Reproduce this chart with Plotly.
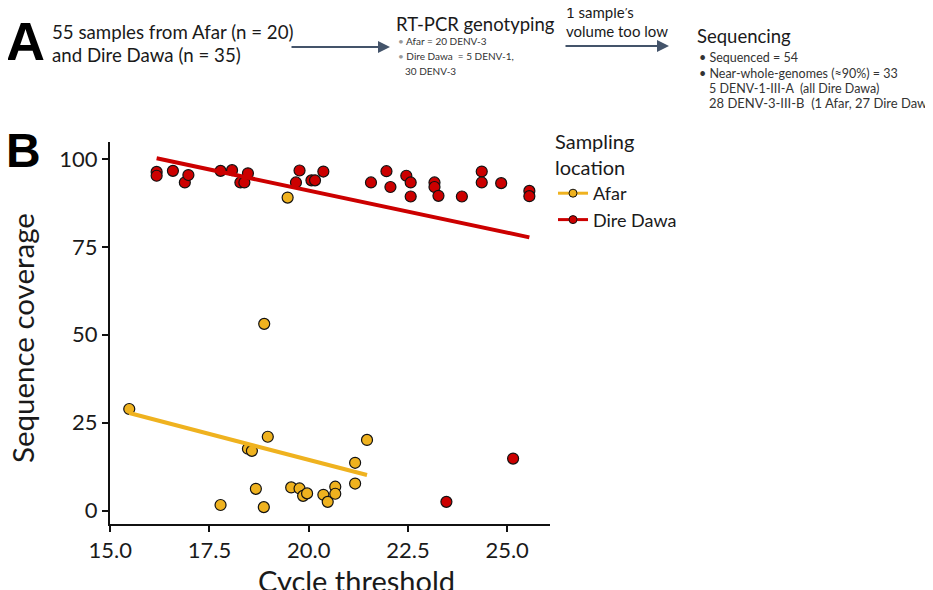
import numpy as np
import plotly.graph_objects as go

# ---------------- data ----------------
afar_ct = [15.48, 17.78, 18.47, 18.57, 18.67, 18.87, 18.88, 18.97, 19.47, 19.56,
           19.77, 19.86, 19.96, 20.37, 20.48, 20.67, 20.67, 21.17, 21.17, 21.47]
afar_cov = [28.9, 1.6, 17.6, 17.0, 6.2, 1.0, 53.1, 21.0, 89.0, 6.6,
            6.3, 4.2, 4.9, 4.5, 2.5, 6.8, 4.8, 13.6, 7.7, 20.1]

dire_ct = [16.17, 16.17, 16.58, 16.88, 16.97, 17.78, 18.07, 18.28, 18.38, 18.47,
           19.68, 19.77, 20.07, 20.16, 20.37, 21.57, 21.96, 22.06, 22.46, 22.57,
           22.57, 23.17, 23.17, 23.27, 23.47, 23.86, 24.36, 24.36, 24.85, 25.15,
           25.56, 25.56]
dire_cov = [96.3, 95.2, 96.6, 93.3, 95.4, 96.6, 96.8, 93.3, 93.3, 95.9,
            93.3, 96.7, 93.9, 93.9, 96.4, 93.3, 96.5, 92.0, 95.2, 93.3,
            89.3, 93.3, 92.0, 89.5, 2.5, 89.3, 96.4, 93.3, 93.1, 14.8,
            90.9, 89.4]

x_ticks = [15.0, 17.5, 20.0, 22.5, 25.0]
x_tick_labels = ["15.0", "17.5", "20.0", "22.5", "25.0"]
y_ticks = [0, 25, 50, 75, 100]

groups = ["Afar", "Dire Dawa"]
colors = {"Afar": "#EFB21F", "Dire Dawa": "#CC0000"}

FONT = "Lato"
OFF = 8  # default page body margin
PAGE_W, PAGE_H = 933, 590
W, H = PAGE_W - OFF, PAGE_H - OFF
PL, PR, PT, PB = 110, 550, 142, 524  # plot area in page pixels
L, R, T, B = PL - OFF, PAGE_W - PR, PT - OFF, PAGE_H - PB


def px2x(px):
    return (px - PL) / (PR - PL)


def py2y(py):
    return (PB - py) / (PB - PT)


fig = go.Figure()

data = {"Afar": (afar_ct, afar_cov), "Dire Dawa": (dire_ct, dire_cov)}

# points
for g in groups:
    xs, ys = data[g]
    fig.add_trace(go.Scatter(
        x=xs, y=ys, mode="markers", showlegend=False,
        marker=dict(size=11, color=colors[g], line=dict(color="#111111", width=1.2)),
    ))

# linear fits
for g in groups:
    xs, ys = data[g]
    slope, icpt = np.polyfit(xs, ys, 1)
    fx = np.array([min(xs), max(xs)])
    fig.add_trace(go.Scatter(
        x=fx, y=slope * fx + icpt, mode="lines", showlegend=False,
        line=dict(color=colors[g], width=4),
    ))

# legend entries
for g in groups:
    fig.add_trace(go.Scatter(
        x=[None], y=[None], mode="lines+markers", name=g,
        line=dict(color=colors[g], width=3),
        marker=dict(size=8, color=colors[g], line=dict(color="#111111", width=1)),
    ))

axis_common = dict(
    showline=True, linecolor="#111111", linewidth=2,
    ticks="outside", ticklen=6, tickwidth=1.5, tickcolor="#111111",
    showgrid=False, zeroline=False,
    tickfont=dict(family=FONT, size=22, color="#1a1a1a"),
)

fig.update_xaxes(range=[14.995, 26.08], tickvals=x_ticks, ticktext=x_tick_labels,
                 **axis_common)
fig.update_yaxes(range=[-3.8, 104.8], tickvals=y_ticks, **axis_common)

annotations = []

# axis titles
annotations.append(dict(text="Cycle threshold", x=px2x(356), y=py2y(580),
                        xref="paper", yref="paper", showarrow=False,
                        xanchor="center", yanchor="middle",
                        font=dict(family=FONT, size=29, color="#1a1a1a")))
annotations.append(dict(text="Sequence coverage", x=px2x(22), y=py2y(338),
                        xref="paper", yref="paper", showarrow=False, textangle=-90,
                        xanchor="center", yanchor="middle",
                        font=dict(family=FONT, size=29.5, color="#1a1a1a")))

# panel letters
annotations.append(dict(text="<b>A</b>", x=px2x(4), y=py2y(41), xref="paper", yref="paper",
                        showarrow=False, xanchor="left", yanchor="middle",
                        font=dict(family="Liberation Sans", size=54, color="#000000")))
annotations.append(dict(text="<b>B</b>", x=px2x(4), y=py2y(150), xref="paper", yref="paper",
                        showarrow=False, xanchor="left", yanchor="middle",
                        font=dict(family="Liberation Sans", size=48, color="#000000")))


def txt(s, px, py, size, color="#1a1a1a"):
    annotations.append(dict(text=s, x=px2x(px), y=py2y(py), xref="paper", yref="paper",
                            showarrow=False, xanchor="left", yanchor="middle",
                            font=dict(family=FONT, size=size, color=color)))


txt("55 samples from Afar (n = 20)", 50, 32, 18.7)
txt("and Dire Dawa (n = 35)", 50, 55, 18.7)
txt("RT-PCR genotyping", 394, 24, 18.5)
txt("<span style='color:#999'>•</span> Afar = 20 DENV-3", 396, 41, 10, "#333333")
txt("<span style='color:#999'>•</span> Dire Dawa  = 5 DENV-1,", 396, 56, 10, "#333333")
txt("30 DENV-3", 403, 71, 10, "#333333")
txt("1 sample’s", 564, 12, 15)
txt("volume too low", 564, 31, 15)
txt("Sequencing", 695, 36, 18.5)
txt("• Sequenced = 54", 697, 57, 12.5, "#333333")
txt("• Near-whole-genomes (≈90%) = 33", 697, 73, 12.5, "#333333")
txt("5 DENV-1-III-A  (all Dire Dawa)", 707, 88, 12.5, "#333333")
txt("28 DENV-3-III-B  (1 Afar, 27 Dire Dawa)", 707, 103, 13, "#333333")

# arrows
for (x0, x1, yy) in [(290, 390, 47), (564, 669, 46)]:
    annotations.append(dict(text="", x=px2x(x1), y=py2y(yy), xref="paper", yref="paper",
                            ax=-(x1 - x0), ay=0, axref="pixel", ayref="pixel",
                            showarrow=True, arrowhead=2, arrowsize=1.2, arrowwidth=2,
                            arrowcolor="#44546A"))

fig.update_layout(
    width=W, height=H,
    margin=dict(l=L, r=R, t=T, b=B, autoexpand=False),
    plot_bgcolor="white", paper_bgcolor="white",
    font=dict(family=FONT, color="#1a1a1a"),
    annotations=annotations,
    legend=dict(
        title=dict(text="Sampling<br>location", font=dict(family=FONT, size=20)),
        font=dict(family=FONT, size=18),
        x=px2x(553), y=py2y(123), xanchor="left", yanchor="top",
        bgcolor="rgba(0,0,0,0)", tracegroupgap=0, itemwidth=30,
    ),
)

fig.write_html("out.html")
